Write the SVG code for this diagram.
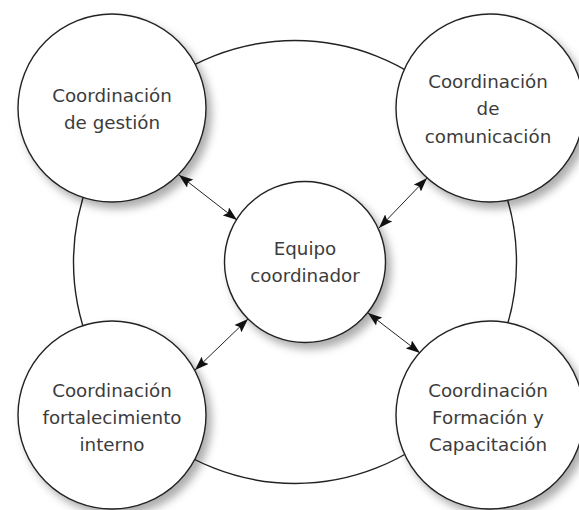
<svg xmlns="http://www.w3.org/2000/svg" width="579" height="510" viewBox="0 0 579 510">
<style>
.ring{fill:none;stroke:#222;stroke-width:1.4}
.node{fill:#fff;stroke:#222;stroke-width:1.4;filter:url(#sh)}
.lbl{font-family:"DejaVu Sans","Liberation Sans",sans-serif;font-size:18.3px;fill:#3c3c3c;text-anchor:middle}
.con{stroke:#222;stroke-width:1;fill:none;marker-start:url(#ah);marker-end:url(#ah)}
</style>
<defs>
<filter id="sh" x="-20%" y="-20%" width="150%" height="150%">
<feDropShadow dx="5" dy="6" stdDeviation="4.5" flood-color="#000" flood-opacity="0.32"/>
</filter>
<marker id="ah" viewBox="0 0 14 10" refX="14" refY="5" markerWidth="14" markerHeight="10" markerUnits="userSpaceOnUse" orient="auto-start-reverse">
<path d="M0,0 L14,5 L0,10 L2.5,5 Z" fill="#111"/>
</marker>
</defs>
<circle class="ring" cx="295" cy="262" r="221.5"/>
<g id="gestion">
<circle class="node" cx="112" cy="108" r="94"/>
<text class="lbl" x="112" y="101.5">Coordinación</text>
<text class="lbl" x="112" y="128.5">de gestión</text>
</g>
<g id="comunicacion">
<circle class="node" cx="490" cy="108" r="94"/>
<text class="lbl" x="488" y="88">Coordinación</text>
<text class="lbl" x="488" y="115">de</text>
<text class="lbl" x="488" y="142.5">comunicación</text>
</g>
<g id="fortalecimiento">
<circle class="node" cx="112" cy="415" r="94"/>
<text class="lbl" x="112" y="396.5">Coordinación</text>
<text class="lbl" x="112" y="424">fortalecimiento</text>
<text class="lbl" x="112" y="451">interno</text>
</g>
<g id="formacion">
<circle class="node" cx="490" cy="415" r="94"/>
<text class="lbl" x="488" y="396.5">Coordinación</text>
<text class="lbl" x="488" y="424">Formación y</text>
<text class="lbl" x="488" y="451">Capacitación</text>
</g>
<g id="equipo">
<circle class="node" cx="305" cy="262" r="80.5"/>
<text class="lbl" x="305" y="254.5">Equipo</text>
<text class="lbl" x="305" y="281.5">coordinador</text>
</g>
<g id="connectors">
<line class="con" x1="179" y1="175" x2="237" y2="220"/>
<line class="con" x1="379" y1="228" x2="427" y2="178"/>
<line class="con" x1="248" y1="319" x2="195" y2="370"/>
<line class="con" x1="368" y1="313" x2="420" y2="353"/>
</g>
</svg>
